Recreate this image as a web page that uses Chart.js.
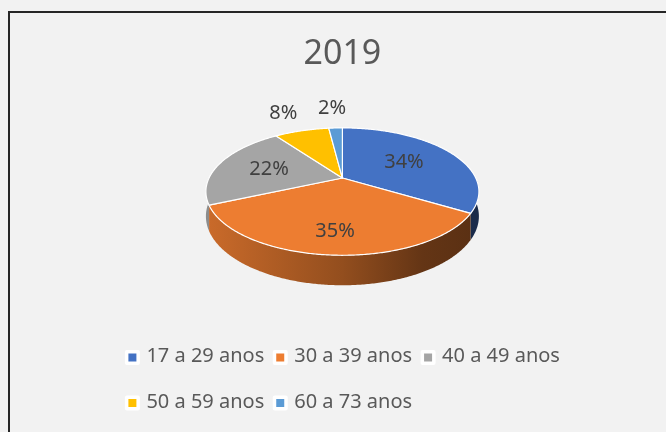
<!DOCTYPE html>
<html>
<head>
<meta charset="utf-8">
<title>2019</title>
<script src="https://cdn.jsdelivr.net/npm/chart.js@4.4.1/dist/chart.umd.min.js"></script>
<style>
  html, body { margin: 0; padding: 0; background: #f2f2f2; }
  .frame { position: absolute; left: 8px; top: 11px; width: 680px; height: 440px;
           border-left: 2px solid #262626; border-top: 2px solid #262626; }
  .wrap { position: absolute; left: 0; top: 0; width: 666px; height: 432px; }
</style>
</head>
<body>
<div class="frame"></div>
<div class="wrap"><canvas id="pie"></canvas></div>
<script>
const ageGroups = ['17 a 29 anos', '30 a 39 anos', '40 a 49 anos', '50 a 59 anos', '60 a 73 anos'];
const shares = [34, 35, 22, 8, 2];
const sliceColors = ['#4472C4', '#ED7D31', '#A5A5A5', '#FFC000', '#5B9BD5'];
const chartTitle = '2019';

// 3d look, in units of the pie radius
const TILT = 0.2126;   // perspective strength
const SQUASH = 0.456;  // vertical flattening of the top face
const DEPTH = 0.177;   // thickness of the pie
const LIFT = -0.16;    // apex offset from the chart area centre
const LEGEND_FONT = 20;

Chart.defaults.font.family = '"Noto Sans", sans-serif';

const total = shares.reduce((a, b) => a + b, 0);

function shade(hex, f) {
  const n = parseInt(hex.slice(1), 16);
  const r = Math.round((n >> 16 & 255) * f);
  const g = Math.round((n >> 8 & 255) * f);
  const b = Math.round((n & 255) * f);
  return `rgb(${r},${g},${b})`;
}

// draws the pie arcs as a tilted disc with a visible rim
const pie3d = {
  id: 'pie3d',
  beforeDatasetsDraw(chart) {
    const ctx = chart.ctx;
    const arcs = chart.getDatasetMeta(0).data;
    const R = arcs[0].outerRadius, cx = arcs[0].x, cy = arcs[0].y + R * LIFT;
    const proj = (a, k, drop) => {
      const v = k * Math.sin(a), w = 1 - TILT * v;
      return [cx + R * k * Math.cos(a) / w, cy + R * (SQUASH * v + (drop ? DEPTH : 0)) / w];
    };
    const trace = (a0, a1, k, drop, first) => {
      const n = Math.max(2, Math.ceil(Math.abs(a1 - a0) / 0.01));
      for (let i = 0; i <= n; i++) {
        const p = proj(a0 + (a1 - a0) * i / n, k, drop);
        if (first && i === 0) ctx.moveTo(p[0], p[1]);
        else ctx.lineTo(p[0], p[1]);
      }
    };
    ctx.save();
    // rim: only the front half shows
    arcs.forEach((arc, i) => {
      const a0 = Math.max(arc.startAngle, 0), a1 = Math.min(arc.endAngle, Math.PI);
      if (a1 <= a0) return;
      const g = ctx.createLinearGradient(cx - R, 0, cx + R, 0);
      g.addColorStop(0, shade(sliceColors[i], 0.85));
      g.addColorStop(0.5, shade(sliceColors[i], 0.62));
      g.addColorStop(0.8, shade(sliceColors[i], 0.42));
      g.addColorStop(1, shade(sliceColors[i], 0.38));
      ctx.beginPath();
      trace(a0, a1, 1, false, true);
      trace(a1, a0, 1, true, false);
      ctx.closePath();
      ctx.fillStyle = g;
      ctx.fill();
    });
    // top faces
    ctx.lineJoin = 'round';
    arcs.forEach((arc, i) => {
      ctx.beginPath();
      ctx.moveTo(cx, cy);
      trace(arc.startAngle, arc.endAngle, 1, false, false);
      ctx.closePath();
      ctx.fillStyle = sliceColors[i];
      ctx.fill();
      ctx.strokeStyle = '#ffffff';
      ctx.lineWidth = 1.2;
      ctx.stroke();
    });
    // percentage labels; front labels sit a little further out
    ctx.font = '20px "Noto Sans"';
    ctx.fillStyle = '#404040';
    ctx.textAlign = 'center';
    ctx.textBaseline = 'middle';
    arcs.forEach((arc, i) => {
      const share = shares[i] / total;
      const text = Math.round(share * 100) + '%';
      const mid = (arc.startAngle + arc.endAngle) / 2;
      if (share >= 0.1) {
        const p = proj(mid, 0.62 + 0.12 * Math.sin(mid), false);
        ctx.fillText(text, p[0], p[1]);
      } else {
        const p = proj(mid, 1.25, false);
        const dx = p[0] - cx, dy = p[1] - cy, d = Math.hypot(dx, dy);
        const w = ctx.measureText(text).width;
        ctx.fillText(text, p[0] + dx / d * (w / 2 + 2), p[1] + dy / d * 10);
      }
    });
    ctx.restore();
    return false;
  }
};

// square markers with a white frame, placed from the legend's own hit boxes
const legendMarkers = {
  id: 'legendMarkers',
  afterDraw(chart) {
    const lg = chart.legend, ctx = chart.ctx;
    const bw = lg.options.labels.boxWidth;
    ctx.save();
    lg.legendHitBoxes.forEach((hb, i) => {
      const x = hb.left + bw + LEGEND_FONT / 2 - 14;
      const y = hb.top + hb.height / 2 + 1;
      ctx.fillStyle = '#ffffff';
      ctx.beginPath();
      ctx.roundRect(x - 7.5, y - 7.5, 15, 15, 2);
      ctx.fill();
      ctx.fillStyle = sliceColors[lg.legendItems[i].index];
      ctx.fillRect(x - 4, y - 4, 8, 8);
    });
    ctx.restore();
  }
};

new Chart(document.getElementById('pie'), {
  type: 'pie',
  data: {
    labels: ageGroups,
    datasets: [{
      data: shares,
      backgroundColor: sliceColors,
      borderWidth: 0,
      hoverOffset: 0
    }]
  },
  options: {
    responsive: true,
    maintainAspectRatio: false,
    animation: false,
    events: [],
    layout: { padding: { top: 0, left: 116.4, right: 97.6, bottom: -1.75 } },
    plugins: {
      title: {
        display: true,
        text: chartTitle,
        color: '#595959',
        font: { size: 34, weight: 'normal', lineHeight: 0.6 },
        padding: { top: 44.1, bottom: 1.5 }
      },
      legend: {
        position: 'bottom',
        align: 'start',
        labels: {
          color: '#595959',
          font: { size: LEGEND_FONT },
          boxWidth: 18,
          boxHeight: 43.5,
          padding: 2,
          generateLabels: () => ageGroups.map((text, i) => ({
            text,
            index: i,
            fontColor: '#595959',
            fillStyle: 'rgba(0,0,0,0)',
            strokeStyle: 'rgba(0,0,0,0)',
            lineWidth: 0,
            hidden: false
          }))
        }
      },
      tooltip: { enabled: false }
    }
  },
  plugins: [pie3d, legendMarkers]
});
</script>
</body>
</html>
